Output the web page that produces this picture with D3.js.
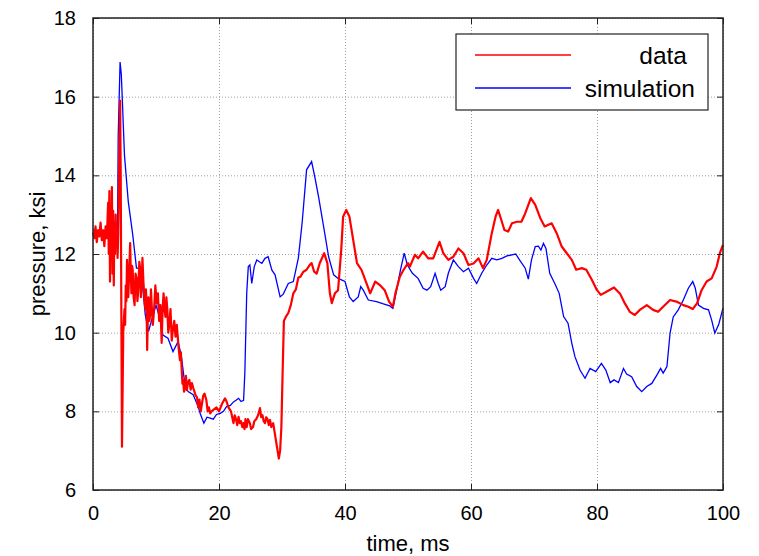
<!DOCTYPE html>
<html>
<head>
<meta charset="utf-8">
<script src="https://cdn.jsdelivr.net/npm/d3@7"></script>
<style>
  body { margin: 0; background: #fff; }
  svg { display: block; font-family: "Liberation Sans", Arial, sans-serif; }
</style>
</head>
<body>
<svg id="chart" width="759" height="556"></svg>
<script>
// measured series: [time ms, pressure ksi]
const dataSeries = [
  [0,12.55],[0.2,12.4],[0.4,12.7],[0.6,12.3],[0.8,12.6],[1.0,12.45],[1.2,12.8],[1.4,12.35],
  [1.6,12.6],[1.8,12.2],[2.0,12.7],[2.2,12.4],[2.4,13.3],[2.5,12.0],[2.6,13.6],[2.7,11.3],
  [2.8,12.9],[2.9,12.2],[3.0,13.7],[3.1,11.5],[3.2,13.1],[3.3,11.2],[3.4,12.8],[3.5,12.0],
  [3.6,13.0],[3.7,12.3],[3.8,12.6],[3.9,11.9],[4.0,12.5],[4.1,13.5],[4.3,15.9],[4.4,14.0],
  [4.5,10.5],[4.6,7.1],[4.7,8.5],[4.8,10.0],[5.0,10.6],[5.1,10.2],[5.2,11.2],[5.3,10.8],
  [5.4,11.85],[5.5,11.3],[5.6,10.9],[5.75,11.6],[5.9,12.28],[6.0,11.5],[6.1,11.0],[6.2,11.7],
  [6.3,11.6],[6.45,10.9],[6.6,10.7],[6.75,11.5],[6.9,11.4],[7.05,10.8],[7.2,11.1],[7.35,11.8],
  [7.5,11.6],[7.6,10.9],[7.7,11.2],[7.85,11.9],[8.0,11.3],[8.15,10.9],[8.3,10.6],[8.4,11.1],
  [8.5,10.75],[8.6,9.56],[8.7,10.4],[8.8,10.9],[8.95,10.3],[9.1,10.5],[9.2,11.1],[9.3,10.75],
  [9.5,10.2],[9.7,10.6],[9.9,11.2],[10.1,10.75],[10.3,11.0],[10.5,10.3],[10.7,10.7],
  [10.9,9.74],[11.05,10.6],[11.2,11.0],[11.35,10.6],[11.5,10.4],[11.65,10.9],[11.8,10.58],
  [11.95,10.0],[12.1,10.2],[12.3,10.6],[12.5,9.8],[12.7,10.1],[12.9,10.3],[13.1,9.9],
  [13.3,10.2],[13.45,9.9],[13.6,9.6],[13.8,9.3],[13.95,9.5],[14.1,9.0],[14.2,8.7],[14.3,8.8],
  [14.45,8.5],[14.6,8.6],[14.75,8.9],[14.9,8.54],[15.1,8.75],[15.3,8.8],[15.5,8.55],
  [15.7,8.72],[15.9,8.6],[16.1,8.5],[16.3,8.4],[16.5,8.36],[16.7,8.1],[16.9,8.3],[17.1,8.0],
  [17.3,8.2],[17.5,8.4],[17.7,8.45],[18.0,8.28],[18.2,8.0],[18.4,8.1],[18.6,7.95],[18.8,8.0],
  [19.2,8.05],[19.6,8.1],[20.0,8.0],[20.5,8.2],[20.95,8.33],[21.2,8.25],[21.5,8.1],[21.9,8.0],
  [22.1,7.85],[22.3,7.7],[22.5,7.9],[22.7,7.8],[22.9,7.65],[23.1,7.86],[23.3,7.7],[23.5,7.75],
  [23.7,7.6],[23.9,7.7],[24.05,7.55],[24.2,7.8],[24.4,7.6],[24.6,7.8],[24.9,7.7],[25.1,7.55],
  [25.4,7.6],[25.6,7.75],[25.9,7.8],[26.2,7.9],[26.5,8.08],[26.7,7.85],[26.9,7.9],[27.1,7.75],
  [27.3,7.7],[27.5,7.85],[27.7,7.8],[27.9,7.65],[28.1,7.78],[28.3,7.6],[28.6,7.7],[29.0,7.3],
  [29.2,7.1],[29.5,6.8],[29.7,7.0],[29.9,7.6],[30.1,9.0],[30.3,10.3],[30.6,10.4],[31.0,10.5],
  [31.4,10.7],[31.8,11.0],[32.2,11.1],[32.6,11.4],[32.9,11.42],[33.4,11.55],[33.9,11.6],
  [34.3,11.7],[34.7,11.77],[35.1,11.55],[35.5,11.5],[36.0,11.77],[36.7,12.02],[37.2,11.77],
  [37.6,11.0],[37.9,10.75],[38.4,11.0],[38.9,11.08],[39.4,12.1],[39.7,12.95],[40.2,13.12],
  [40.7,12.95],[41.3,12.36],[41.9,11.77],[42.6,11.6],[43.4,11.26],[44.0,11.0],[44.8,11.3],
  [45.6,11.2],[46.3,11.08],[47.0,10.79],[47.6,10.66],[48.0,11.0],[48.7,11.42],[49.3,11.6],
  [50.0,11.77],[50.3,11.68],[51.1,11.98],[51.6,11.89],[52.4,12.06],[53.2,11.89],[54.0,11.89],
  [55.0,12.31],[55.6,12.02],[56.4,11.85],[57.2,11.93],[58.0,12.14],[58.8,12.02],[59.6,11.72],
  [60.4,11.76],[61.2,11.89],[61.9,11.64],[62.5,11.85],[63.3,12.53],[63.9,12.95],[64.3,13.12],
  [64.8,12.87],[65.3,12.61],[65.9,12.57],[66.5,12.78],[67.3,12.82],[68.0,12.82],[68.6,13.03],
  [69.5,13.42],[70.2,13.25],[71.0,12.91],[71.7,12.7],[72.8,12.78],[73.6,12.53],[74.4,12.19],
  [75.2,12.02],[76.0,11.85],[76.7,11.6],[77.6,11.64],[78.3,11.6],[79.2,11.34],[80.0,11.08],
  [80.6,10.96],[81.5,11.04],[82.7,11.15],[83.7,10.98],[84.4,10.75],[85.2,10.53],[86.0,10.45],
  [86.8,10.58],[87.9,10.7],[88.9,10.58],[89.7,10.53],[90.5,10.66],[91.6,10.83],[92.6,10.79],
  [93.7,10.7],[94.5,10.66],[95.2,10.6],[95.9,10.75],[96.6,11.08],[97.4,11.3],[98.2,11.38],
  [99.0,11.68],[99.5,12.02],[100,12.23]
];

// simulated series: [time ms, pressure ksi]
const simSeries = [
  [0,12.6],[3.9,12.6],[4.0,15.0],[4.3,16.88],[4.5,16.55],[5.0,14.5],[5.6,13.33],[6.3,12.5],
  [6.9,11.64],[7.4,11.64],[7.9,11.13],[8.3,10.45],[8.8,10.03],[9.4,10.37],[10.0,10.7],
  [10.6,10.37],[11.1,9.94],[11.9,9.86],[12.7,9.52],[13.5,9.77],[14.0,9.43],[14.6,8.67],
  [15.1,8.5],[15.9,8.42],[16.7,8.12],[17.0,7.95],[17.6,7.7],[18.1,7.85],[18.6,7.83],[19.1,7.8],
  [19.6,7.92],[20.2,7.95],[20.7,8.0],[21.2,8.12],[21.8,8.15],[22.3,8.24],[22.7,8.28],[23.1,8.33],
  [23.5,8.25],[23.9,8.28],[24.1,8.97],[24.4,11.0],
  [24.65,11.68],[24.9,11.72],[25.2,11.25],[25.6,11.68],[26.0,11.85],[26.8,11.76],[27.3,11.89],
  [27.8,11.93],[28.4,11.59],[28.9,11.47],[29.7,10.91],[30.2,10.98],[31.0,11.25],[31.8,11.3],
  [32.6,11.9],[33.2,12.8],[33.9,14.14],[34.7,14.35],[35.2,13.97],[35.8,13.46],[36.6,12.7],
  [37.4,11.93],[38.2,11.47],[38.9,11.38],[40.0,11.3],[40.7,10.91],[41.3,10.79],[42.1,10.91],
  [42.5,11.17],[42.9,11.08],[43.7,10.83],[45.0,10.79],[46.1,10.73],[47.1,10.68],[47.6,10.62],
  [48.2,11.08],[48.8,11.59],[49.4,12.02],[49.9,11.72],[50.7,11.51],[51.6,11.38],[52.4,11.13],
  [53.0,11.08],[53.6,11.17],[54.3,11.51],[54.8,11.25],[55.2,11.08],[55.9,11.17],[56.4,11.51],
  [57.2,11.85],[58.0,11.68],[58.8,11.55],[59.6,11.64],[60.4,11.38],[60.9,11.25],[61.7,11.51],
  [62.5,11.72],[63.3,11.89],[64.1,11.85],[64.9,11.89],[65.7,11.95],[66.5,11.98],[67.1,12.0],
  [67.7,11.85],[68.6,11.64],[69.1,11.36],[69.6,11.85],[70.2,12.19],[70.7,12.2],[71.1,12.1],
  [71.5,12.27],[71.9,12.14],[72.5,11.51],[73.3,11.25],[74.0,11.0],[74.7,10.41],[75.4,10.24],
  [76.0,9.73],[76.5,9.39],[77.3,9.05],[78.1,8.84],[78.9,9.09],[79.8,9.01],[80.7,9.22],
  [81.4,9.05],[82.1,8.73],[82.7,8.8],[83.4,8.73],[84.2,9.09],[84.7,8.95],[85.5,8.88],
  [86.3,8.63],[87.1,8.5],[87.9,8.63],[88.7,8.71],[89.5,8.92],[90.1,9.09],[90.5,8.97],
  [91.1,9.14],[91.6,9.99],[92.1,10.4],[92.9,10.58],[93.7,10.83],[94.5,11.13],[95.2,11.3],
  [95.6,11.13],[96.1,10.7],[96.9,10.62],[97.7,10.58],[98.2,10.32],[98.7,9.99],[99.3,10.2],
  [100,10.62]
];

const xTicks = [0, 20, 40, 60, 80, 100];
const yTicks = [6, 8, 10, 12, 14, 16, 18];
const legendLabels = ["data", "simulation"];
const seriesColors = ["#ff0000", "#0000ff"];

const svg = d3.select("#chart");
const margin = { top: 18, right: 36, bottom: 66, left: 93 };
const width = 759 - margin.left - margin.right;
const height = 556 - margin.top - margin.bottom;

const x = d3.scaleLinear().domain([0, 100]).range([0, width]);
const y = d3.scaleLinear().domain([6, 18]).range([height, 0]);

const g = svg.append("g").attr("transform", `translate(${margin.left},${margin.top})`);

// dotted grid
g.append("g")
  .call(d3.axisBottom(x).tickValues(xTicks).tickSize(-height).tickFormat(""))
  .attr("transform", `translate(0,${height})`)
  .call((a) => a.select(".domain").remove())
  .selectAll("line")
  .attr("stroke", "#a0a0a0")
  .attr("stroke-dasharray", "1,2");

g.append("g")
  .call(d3.axisLeft(y).tickValues(yTicks).tickSize(-width).tickFormat(""))
  .call((a) => a.select(".domain").remove())
  .selectAll("line")
  .attr("stroke", "#a0a0a0")
  .attr("stroke-dasharray", "1,2");

// lines
const line = d3.line().x((d) => x(d[0])).y((d) => y(d[1]));

g.append("path")
  .datum(simSeries)
  .attr("d", line)
  .attr("fill", "none")
  .attr("stroke", seriesColors[1])
  .attr("stroke-width", 1.3);

g.append("path")
  .datum(dataSeries)
  .attr("d", line)
  .attr("fill", "none")
  .attr("stroke", seriesColors[0])
  .attr("stroke-width", 2.2)
  .attr("stroke-linejoin", "round");

// axes with inward ticks on all sides
const tickLen = 6;
const axisStyle = (a) => {
  a.select(".domain").remove();
  a.selectAll("line").attr("stroke", "#222");
};

g.append("g")
  .attr("transform", `translate(0,${height})`)
  .call(d3.axisBottom(x).tickValues(xTicks).tickSizeInner(-tickLen).tickSizeOuter(0).tickPadding(16))
  .call(axisStyle)
  .call((a) => a.selectAll("text").attr("font-size", 20).attr("fill", "#000"));

g.append("g")
  .call(d3.axisLeft(y).tickValues(yTicks).tickSizeInner(-tickLen).tickSizeOuter(0).tickPadding(17))
  .call(axisStyle)
  .call((a) => a.selectAll("text").attr("font-size", 20).attr("fill", "#000"));

g.append("g")
  .call(d3.axisTop(x).tickValues(xTicks).tickSizeInner(-tickLen).tickSizeOuter(0).tickFormat(""))
  .call(axisStyle);

g.append("g")
  .attr("transform", `translate(${width},0)`)
  .call(d3.axisRight(y).tickValues(yTicks).tickSizeInner(-tickLen).tickSizeOuter(0).tickFormat(""))
  .call(axisStyle);

g.append("rect")
  .attr("width", width)
  .attr("height", height)
  .attr("fill", "none")
  .attr("stroke", "#222")
  .attr("stroke-width", 1.5);

// axis labels
svg.append("text")
  .attr("x", margin.left + width / 2)
  .attr("y", 551)
  .attr("text-anchor", "middle")
  .attr("font-size", 22)
  .text("time, ms");

svg.append("text")
  .attr("transform", `translate(45,${margin.top + height / 2}) rotate(-90)`)
  .attr("text-anchor", "middle")
  .attr("font-size", 22)
  .text("pressure, ksi");

// legend
const legend = svg.append("g").attr("transform", "translate(456,34)");
legend.append("rect")
  .attr("width", 252)
  .attr("height", 76)
  .attr("fill", "#fff")
  .attr("stroke", "#222")
  .attr("stroke-width", 1.2);

const textEnds = [231, 239];
legendLabels.forEach((label, i) => {
  const ly = 21 + i * 33;
  legend.append("line")
    .attr("x1", 19).attr("x2", 115)
    .attr("y1", ly).attr("y2", ly)
    .attr("stroke", seriesColors[i])
    .attr("stroke-width", 1.3);
  legend.append("text")
    .attr("x", textEnds[i])
    .attr("y", ly + 8.5)
    .attr("text-anchor", "end")
    .attr("font-size", 24.5)
    .text(label);
});
</script>
</body>
</html>
